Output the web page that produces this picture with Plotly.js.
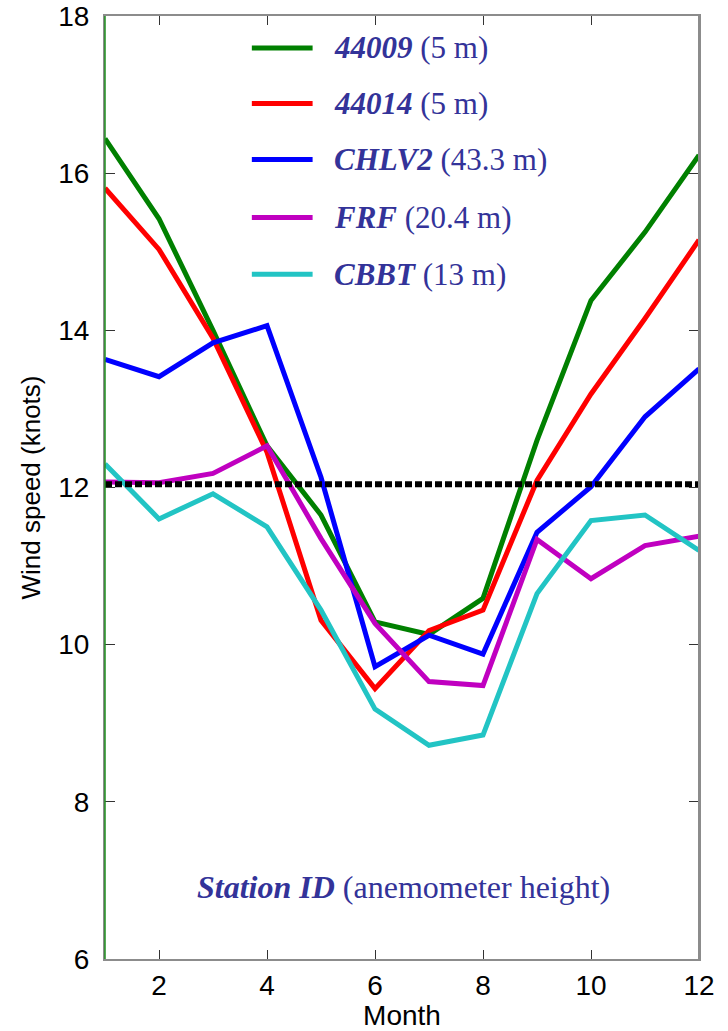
<!DOCTYPE html>
<html>
<head>
<meta charset="utf-8">
<script src="https://cdn.plot.ly/plotly-3.0.1.min.js"></script>
<style>
  html, body { margin: 0; padding: 0; background: #ffffff; }
  #chart { width: 728px; height: 1031px; }
</style>
</head>
<body>
<div id="chart"></div>
<script>
// ---- data ----
var months = [1, 2, 3, 4, 5, 6, 7, 8, 9, 10, 11, 12];

var stationIds = ["44009", "44014", "CHLV2", "FRF", "CBBT"];
var heights = ["5 m", "5 m", "43.3 m", "20.4 m", "13 m"];

var s44009 = [16.44, 15.42, 14.00, 12.53, 11.65, 10.29, 10.13, 10.59, 12.60, 14.38, 15.25, 16.23];
var s44014 = [15.81, 15.03, 13.90, 12.45, 10.31, 9.44, 10.18, 10.44, 12.09, 13.19, 14.15, 15.15];
var sCHLV2 = [13.63, 13.41, 13.84, 14.06, 12.13, 9.72, 10.12, 9.88, 11.43, 12.01, 12.90, 13.51];
var sFRF   = [12.07, 12.06, 12.18, 12.53, 11.35, 10.27, 9.53, 9.48, 11.34, 10.84, 11.26, 11.38];
var sCBBT  = [12.30, 11.60, 11.92, 11.50, 10.44, 9.18, 8.72, 8.85, 10.65, 11.58, 11.65, 11.20];

var refX = [1, 12];
var refY = [12.04, 12.04];

var xTicks = [2, 4, 6, 8, 10, 12];
var yTicks = [6, 8, 10, 12, 14, 16, 18];

var seriesValues = [s44009, s44014, sCHLV2, sFRF, sCBBT];
var colors = ["#008000", "#ff0000", "#0000ff", "#c000c0", "#22c4c4"];

// ---- traces ----
var traces = seriesValues.map(function (vals, i) {
  return {
    x: months, y: vals, type: "scatter", mode: "lines",
    name: stationIds[i] + " (" + heights[i] + ")",
    line: { color: colors[i], width: 5 },
    showlegend: false, hoverinfo: "x+y+name"
  };
});
traces.push({
  x: refX, y: refY, type: "scatter", mode: "lines",
  line: { color: "#000000", width: 6, dash: "7px,3px" },
  showlegend: false, hoverinfo: "skip"
});

// ---- custom legend (paper coordinates) ----
var legendRowsY = [0.9661, 0.9071, 0.8478, 0.7862, 0.7261];
var shapes = [];
var annotations = [];
var textColor = "#333399";
var serif = "Liberation Serif, Times New Roman, serif";
stationIds.forEach(function (id, i) {
  shapes.push({
    type: "line", xref: "paper", yref: "paper",
    x0: 0.2472, x1: 0.3495, y0: legendRowsY[i], y1: legendRowsY[i],
    line: { color: colors[i], width: 5 }
  });
  annotations.push({
    xref: "paper", yref: "paper", x: 0.3815, y: legendRowsY[i],
    xanchor: "left", yanchor: "middle", showarrow: false,
    text: "<b><i>" + id + "</i></b> (" + heights[i] + ")",
    font: { family: serif, size: 31, color: textColor }
  });
});
annotations.push({
  xref: "paper", yref: "paper", x: 0.1512, y: 0.076,
  xanchor: "left", yanchor: "middle", showarrow: false,
  text: "<b><i>Station ID</i></b> (anemometer height)",
  font: { family: serif, size: 32, color: textColor }
});

// frame: gray right edge, green left edge
shapes.push({ type: "line", xref: "paper", yref: "paper", x0: 1, x1: 1, y0: 0, y1: 1,
  line: { color: "#8c8c8c", width: 2 } });
shapes.push({ type: "line", xref: "paper", yref: "paper", x0: 0, x1: 0, y0: 0, y1: 1,
  line: { color: "#1f8f1f", width: 1.5 } });

var sans = "Liberation Sans, Arial, sans-serif";
var layout = {
  width: 728, height: 1031,
  margin: { l: 105.3, r: 29.3, t: 15.7, b: 72.3, pad: 0 },
  paper_bgcolor: "#ffffff", plot_bgcolor: "#ffffff",
  showlegend: false,
  font: { family: sans, size: 28, color: "#000000" },
  xaxis: {
    range: [1, 12], tickvals: xTicks, ticktext: xTicks.map(String),
    ticks: "inside", ticklen: 9, tickwidth: 1, tickcolor: "#333333",
    showline: true, linecolor: "#8c8c8c", linewidth: 2, mirror: "ticks",
    showgrid: false, zeroline: false,
    tickfont: { family: sans, size: 28, color: "#000000" },
    title: { text: "Month", font: { family: sans, size: 28, color: "#000000" }, standoff: 5 }
  },
  yaxis: {
    range: [6, 18], tickvals: yTicks, ticktext: yTicks.map(String),
    ticks: "inside", ticklen: 10, tickwidth: 1, tickcolor: "#333333",
    showline: true, linecolor: "#8c8c8c", linewidth: 2, mirror: "ticks",
    showgrid: false, zeroline: false,
    ticklabelstandoff: 8,
    tickfont: { family: sans, size: 28, color: "#000000" },
    title: { text: "Wind speed (knots)", font: { family: sans, size: 26, color: "#000000" }, standoff: 10 }
  },
  shapes: shapes,
  annotations: annotations
};

Plotly.newPlot("chart", traces, layout, { displayModeBar: false, staticPlot: true });
</script>
</body>
</html>
